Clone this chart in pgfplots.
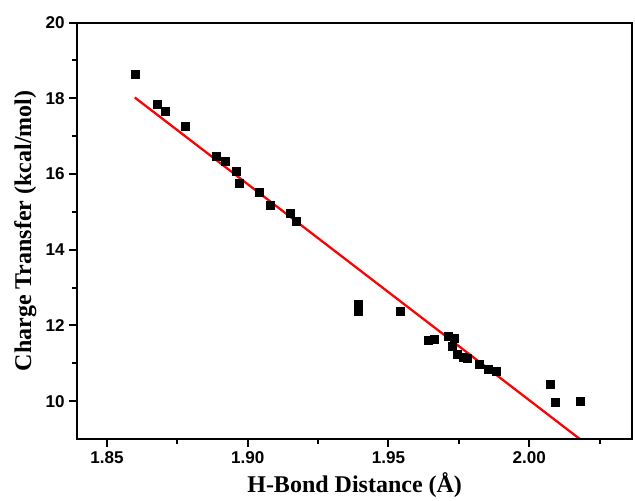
\documentclass[border=0pt]{standalone}
\usepackage{fontspec}
\setmainfont{Liberation Serif}
\setsansfont{Liberation Sans}
\usepackage{pgfplots}
\usepackage{pgfplotstable}
\pgfplotsset{compat=1.18}

% H-bond distance vs charge transfer
\pgfplotstableread{
x       y
1.8599  18.64
1.8680  17.84
1.8709  17.66
1.8780  17.27
1.8889  16.46
1.8921  16.34
1.8960  16.07
1.8971  15.76
1.9040  15.51
1.9081  15.18
1.9150  14.97
1.9172  14.74
1.9392  12.55
1.9392  12.38
1.9541  12.38
1.9640  11.62
1.9661  11.64
1.9711  11.71
1.9735  11.66
1.9725  11.46
1.9745  11.24
1.9764  11.17
1.9780  11.13
1.9824  10.97
1.9855  10.85
1.9883  10.78
2.0075  10.44
2.0093   9.96
2.0183  10.00
}\ctdata

\begin{document}
\begin{tikzpicture}
\begin{axis}[scale only axis,width=416pt,height=312.4pt,
  xmin=1.8395,xmax=2.0365,ymin=9,ymax=20,
  xtick={1.85,1.90,1.95,2.00},minor xtick={1.875,1.925,1.975,2.025},
  ytick={10,12,...,20},minor ytick={11,13,...,19},
  tick pos=left,tick align=outside,major tick length=6pt,minor tick length=3.75pt,
  axis line style={line width=1.5pt},
  every tick/.append style={black,line width=1.5pt},
  xticklabel style={/pgf/number format/.cd,fixed,fixed zerofill,precision=2},
  /pgf/number format/assume math mode=true,
  tick label style={font=\sffamily\bfseries\fontsize{12.8}{14}\selectfont},
  xlabel={H-Bond Distance (Å)},ylabel={Charge Transfer (kcal/mol)},
  label style={font=\bfseries\fontsize{18}{20}\selectfont}]
\coordinate (bl) at (rel axis cs:0,0);
\coordinate (tr) at (rel axis cs:1,1);
\addplot[only marks,mark=square*,mark size=3pt,black] table[x=x,y=y]{\ctdata};
\addplot[red,line width=1.7pt] coordinates{(1.8599,18.02)(2.0180,9.0)};
\end{axis}
\draw[line width=1.5pt] (bl) rectangle (tr);
\pgfresetboundingbox
\path ([shift={(-58pt,-45.75pt)}]bl) rectangle ([shift={(2.25pt,16.9pt)}]tr);
\end{tikzpicture}
\end{document}
